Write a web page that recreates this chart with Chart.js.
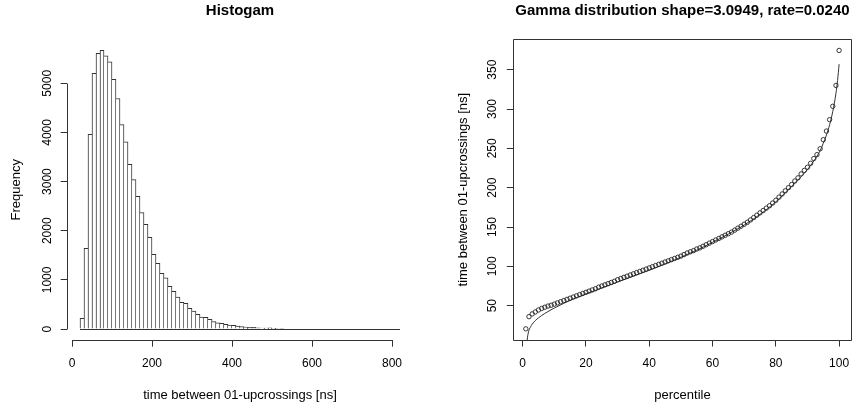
<!DOCTYPE html>
<html>
<head>
<meta charset="utf-8">
<script src="https://cdn.jsdelivr.net/npm/chart.js@4.4.1/dist/chart.umd.min.js"></script>
<style>
  html, body { margin: 0; padding: 0; background: #fff; }
  #wrap { display: flex; width: 859px; height: 410px; }
  canvas { display: block; }
</style>
</head>
<body>
<div id="wrap">
  <canvas id="histChart" width="430" height="410"></canvas>
  <canvas id="gammaChart" width="429" height="410"></canvas>
</div>
<script>
// Histogram: 10 ns bins from 20 ns to 820 ns
const binStart = 20;
const binWidth = 10;
const binCounts = [
  220, 1640, 3960, 5200, 5610, 5670, 5560, 5435, 5080, 4690,
  4160, 3810, 3350, 3040, 2700, 2370, 2130, 1866, 1520, 1337,
  1135, 1040, 870, 765, 648, 545, 522, 421, 366, 300,
  245, 240, 197, 150, 129, 115, 95, 81, 75, 61,
  48, 41, 34, 34, 27, 20, 20, 25, 14, 10,
  8, 0, 0, 0, 0, 0, 0, 0, 0, 0,
  0, 0, 0, 0, 0, 0, 0, 0, 0, 0,
  0, 0, 0, 0, 0, 0, 0, 0, 0, 0
];
const histXTicks = [0, 200, 400, 600, 800];
const histYTicks = [0, 1000, 2000, 3000, 4000, 5000];

// Quantile plot: observed percentiles (circles) and fitted gamma curve
const percentiles = [
  1, 2, 3, 4, 5, 6, 7, 8, 9, 10, 11, 12, 13, 14, 15, 16, 17, 18, 19, 20,
  21, 22, 23, 24, 25, 26, 27, 28, 29, 30, 31, 32, 33, 34, 35, 36, 37, 38, 39, 40,
  41, 42, 43, 44, 45, 46, 47, 48, 49, 50, 51, 52, 53, 54, 55, 56, 57, 58, 59, 60,
  61, 62, 63, 64, 65, 66, 67, 68, 69, 70, 71, 72, 73, 74, 75, 76, 77, 78, 79, 80,
  81, 82, 83, 84, 85, 86, 87, 88, 89, 90, 91, 92, 93, 94, 95, 96, 97, 98, 99, 100
];
const observed = [
  20.5, 36, 39.5, 42, 44.5, 46.5, 48, 49.5, 50.5, 52,
  53.5, 55, 56.5, 58, 59.5, 61, 62.5, 64, 65.5, 67,
  68.5, 70, 71.5, 73.5, 75, 76.5, 78, 79.5, 81, 83,
  84.5, 86, 87.5, 89, 90.5, 92, 93.5, 95, 96.5, 98,
  99.5, 101, 102.5, 104, 105.5, 107, 108.5, 110, 111.5, 113,
  115, 117, 118.5, 120, 122, 123.5, 125.5, 127.5, 129.5, 131.5,
  133.5, 135.5, 137.5, 139.5, 141.5, 143.5, 146, 148.5, 151, 153.5,
  156, 159, 162, 165, 168, 171, 174, 177, 180.5, 184,
  188, 192, 196, 200, 204, 208.5, 212.5, 217.5, 222, 226,
  231, 237, 242, 249.5, 261, 272, 286.5, 303.5, 330, 374.5
];
const fitX = [1.35, 1.5, 1.7, 2, 2.5, 3, 4, 5, 6, 8, 10, 13, 16, 20, 25, 30, 35, 40, 45, 50,
  55, 60, 65, 70, 75, 80, 85, 88, 90, 92, 94, 95, 96, 97, 98, 99, 99.5, 100];
const fitY = [3, 9, 14, 19, 23, 26.5, 31, 34.5, 37.5, 42.5, 47, 53, 58.5, 65, 72.5, 80, 87.5, 95, 103, 111.5,
  120.5, 130.5, 141, 152.5, 166, 182, 202, 214, 223, 234, 247, 256.5, 267, 280, 297, 320, 336, 357];
const gammaXTicks = [0, 20, 40, 60, 80, 100];
const gammaYTicks = [50, 100, 150, 200, 250, 300, 350];

const FONT = "'Liberation Sans', Arial, sans-serif";
const INK = '#333';

// R-like padding of 4% on each side of the data range
function padRange(lo, hi) {
  const d = (hi - lo) * 0.04;
  return [lo - d, hi + d];
}

function alignPx(p) {
  return Math.round(p - 0.5) + 0.5;
}

// axis lines only between first and last tick (R style) or a full box
const rAxes = {
  id: 'rAxes',
  afterDraw(chart, args, opts) {
    const { ctx, chartArea, scales: { x, y } } = chart;
    ctx.save();
    ctx.strokeStyle = INK;
    ctx.lineWidth = 1;
    ctx.beginPath();
    if (opts.box) {
      const l = alignPx(chartArea.left), r = alignPx(chartArea.right);
      const t = alignPx(chartArea.top), b = alignPx(chartArea.bottom);
      ctx.rect(l, t, r - l, b - t);
    } else {
      const xt = x.ticks, yt = y.ticks;
      const ax = alignPx(chartArea.bottom);
      ctx.moveTo(alignPx(x.getPixelForValue(xt[0].value)), ax);
      ctx.lineTo(alignPx(x.getPixelForValue(xt[xt.length - 1].value)), ax);
      const ay = alignPx(chartArea.left);
      ctx.moveTo(ay, alignPx(y.getPixelForValue(yt[0].value)));
      ctx.lineTo(ay, alignPx(y.getPixelForValue(yt[yt.length - 1].value)));
      if (opts.baseline) {
        const b0 = alignPx(y.getPixelForValue(0));
        ctx.moveTo(x.getPixelForValue(binStart), b0);
        ctx.lineTo(x.getPixelForValue(binStart + binWidth * binCounts.length), b0);
      }
    }
    ctx.stroke();
    ctx.restore();
  }
};

function tickAxis(ticks, size, pad, rotated) {
  return {
    type: 'linear',
    offset: false,
    afterBuildTicks: s => { s.ticks = ticks.map(v => ({ value: v })); },
    grid: { offset: false, drawOnChartArea: false, drawTicks: true, tickLength: 6.5, color: INK, tickColor: INK, lineWidth: 1 },
    border: { display: false },
    ticks: {
      color: '#000',
      font: { family: FONT, size: size },
      padding: pad,
      autoSkip: false,
      minRotation: rotated ? 90 : 0,
      maxRotation: rotated ? 90 : 0,
      crossAlign: rotated ? 'center' : 'near',
      callback: v => String(v)
    }
  };
}

function axisTitle(text, pad) {
  return { display: true, text: text, color: '#000', font: { family: FONT, size: 13 }, padding: pad };
}

Chart.defaults.font.family = FONT;

// ---- left: histogram ----
const [hxMin, hxMax] = padRange(binStart, binStart + binWidth * binCounts.length);
const [hyMin, hyMax] = padRange(0, Math.max(...binCounts));
const lastBin = binCounts.length - 1;

const hx = tickAxis(histXTicks, 12, 9.4, false);
hx.min = hxMin; hx.max = hxMax;
hx.afterFit = s => { s.height = 69.8; };
hx.title = axisTitle('time between 01-upcrossings [ns]', { top: 0, bottom: 7.2 });

const hy = tickAxis(histYTicks, 12, 0, true);
hy.min = hyMin; hy.max = hyMax;
hy.afterFit = s => { s.width = 67.2; };
hy.title = axisTitle('Frequency', { top: 8.9, bottom: 0 });

new Chart(document.getElementById('histChart'), {
  type: 'bar',
  data: {
    datasets: [{
      data: binCounts.map((c, i) => ({ x: binStart + binWidth * (i + 0.5), y: c })),
      backgroundColor: '#fff',
      borderColor: INK,
      borderSkipped: false,
      borderWidth: ctx => {
        const i = ctx.dataIndex;
        const c = binCounts[i];
        return {
          top: 1,
          bottom: 0,
          left: (i === 0 || binCounts[i - 1] <= c) ? 1 : 0,
          right: (i === lastBin || binCounts[i + 1] < c) ? 1 : 0
        };
      },
      barPercentage: 1,
      categoryPercentage: 1,
      grouped: false
    }]
  },
  options: {
    responsive: false,
    animation: false,
    events: [],
    layout: { padding: { left: 0, right: 17.2, top: 0, bottom: 0 } },
    plugins: {
      legend: { display: false },
      tooltip: { enabled: false },
      title: {
        display: true, text: 'Histogam', fullSize: false, color: '#000',
        font: { family: FONT, size: 15, weight: 'bold' },
        padding: { top: 2, bottom: 19.2 }
      },
      rAxes: { box: false, baseline: true }
    },
    scales: { x: hx, y: hy }
  },
  plugins: [rAxes]
});

// ---- right: gamma quantile plot ----
const [gxMin, gxMax] = padRange(percentiles[0], percentiles[percentiles.length - 1]);
const [gyMin, gyMax] = padRange(Math.min(...observed), Math.max(...observed));

const gx = tickAxis(gammaXTicks, 12, 9.6, false);
gx.min = gxMin; gx.max = gxMax;
gx.afterFit = s => { s.height = 70; };
gx.title = axisTitle('percentile', { top: 0, bottom: 7.2 });

const gy = tickAxis(gammaYTicks, 12, 4.3, true);
gy.min = gyMin; gy.max = gyMax;
gy.afterFit = s => { s.width = 83.3; };
gy.title = axisTitle('time between 01-upcrossings [ns]', { top: 25.5, bottom: 0 });

new Chart(document.getElementById('gammaChart'), {
  type: 'scatter',
  data: {
    datasets: [{
      data: percentiles.map((p, i) => ({ x: p, y: observed[i] })),
      pointStyle: 'circle',
      pointRadius: 2.2,
      pointBorderWidth: 0.9,
      pointBorderColor: '#222',
      pointBackgroundColor: 'rgba(0,0,0,0)',
      showLine: false
    }, {
      data: fitX.map((p, i) => ({ x: p, y: fitY[i] })),
      showLine: true,
      borderColor: INK,
      borderWidth: 1,
      pointRadius: 0,
      fill: false,
      cubicInterpolationMode: 'monotone'
    }]
  },
  options: {
    responsive: false,
    animation: false,
    events: [],
    layout: { padding: { left: 0, right: 0, top: 0, bottom: 0 } },
    plugins: {
      legend: { display: false },
      tooltip: { enabled: false },
      title: {
        display: true, text: 'Gamma distribution shape=3.0949, rate=0.0240', fullSize: false, color: '#000',
        font: { family: FONT, size: 15, weight: 'bold' },
        padding: { top: 2, bottom: 19.3 }
      },
      rAxes: { box: true }
    },
    scales: { x: gx, y: gy }
  },
  plugins: [rAxes]
});
</script>
</body>
</html>
